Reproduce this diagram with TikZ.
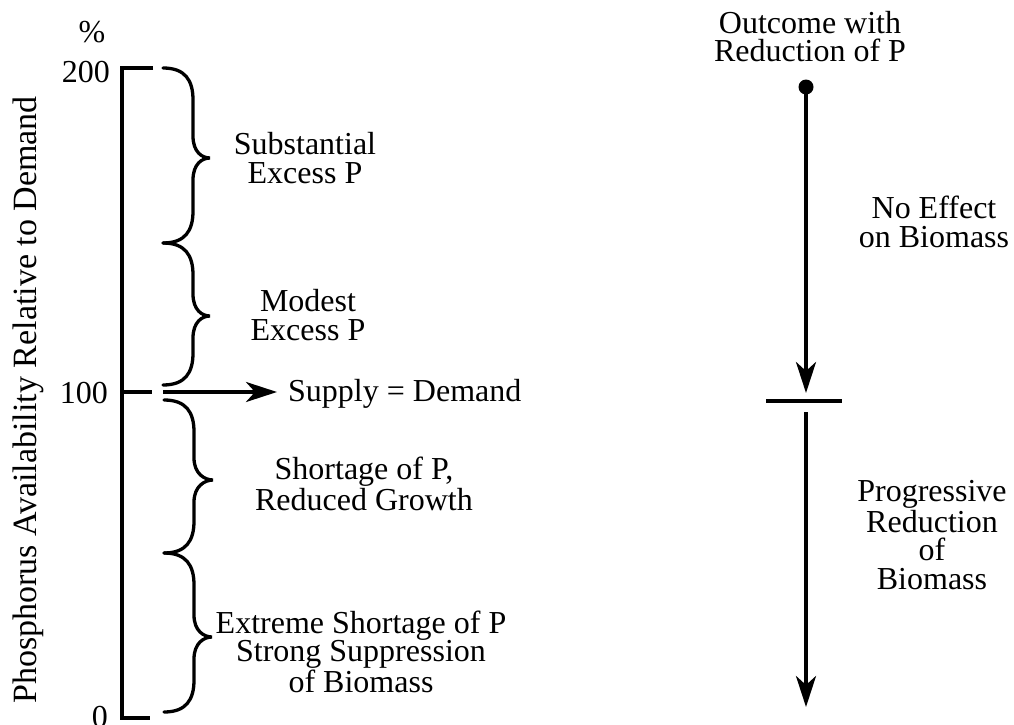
\documentclass[tikz,border=0pt]{standalone}
\usepackage{fontspec}
\setmainfont{Liberation Serif}
\usetikzlibrary{arrows.meta}
\newcommand\mybrace[5]{% x0, ya, tipx, tipy, yb
  \draw[brc] (#1,#2) .. controls (#1+22,#2) and (#1+30,#2+12) .. (#1+30,#2+32)
    -- (#1+30,#4-22) .. controls (#1+30,#4-6) and (#3-8,#4) .. (#3,#4)
    .. controls (#3-8,#4) and (#1+30,#4+6) .. (#1+30,#4+22)
    -- (#1+30,#5-32) .. controls (#1+30,#5-12) and (#1+22,#5) .. (#1,#5);}
\begin{document}
\begin{tikzpicture}[x=1pt,y=-1pt,
  lbl/.style={font=\fontsize{32}{28.5}\selectfont, align=center, inner sep=0pt},
  axis/.style={line width=3.3pt},
  brc/.style={line width=3.3pt, line cap=round},
  arr/.style={line width=3.8pt, -{Stealth[length=31pt,width=20pt,inset=9pt]}},
  dotnode/.style={circle, fill=black, minimum size=15pt, inner sep=0pt}]
\useasboundingbox (0,0) rectangle (1014,725);
% axis
\draw[axis] (153,68) -- (122,68) -- (122,718) -- (150,718);
\draw[axis] (122,392) -- (152,392);
\node[lbl, anchor=base] (pct) at (92,43) {\%};
\node[lbl, anchor=base east] (t200) at (110,82) {200};
\node[lbl, anchor=base east] (t100) at (108,403) {100};
\node[lbl, anchor=base east] (t0) at (108,727) {0};
\node[lbl, font=\fontsize{34}{34}\selectfont, rotate=90, anchor=base] (ylab) at (36,400)
  {Phosphorus Availability Relative to Demand};
% braces
\mybrace{163}{68}{210}{158}{243}
\mybrace{163}{243}{210}{316}{385}
\mybrace{164}{400}{213}{480}{553}
\mybrace{164}{553}{212}{637}{712}
% labels (anchor = baseline of the last line)
\node[lbl, anchor=base] (subst) at (305,183) {Substantial\\Excess P};
\node[lbl, anchor=base] (modest) at (308,340) {Modest\\Excess P};
\node[lbl, anchor=base west] (supply) at (288,401) {Supply = Demand};
\node[lbl, anchor=base] (short) at (364,510) {Shortage of P,\\Reduced Growth};
\node[lbl, anchor=base] (extreme) at (361,692) {Extreme Shortage of P\\Strong Suppression\\of Biomass};
\coordinate (s0) at (163,392);
\coordinate (s1) at (277,392);
\draw[arr] (s0) -- (s1);
% right side
\node[lbl, anchor=base] (outcome) at (810,62) {Outcome with\\Reduction of P};
\node[dotnode] (dot) at (806,87) {};
\coordinate (tip1) at (806,393);
\coordinate (barL) at (766,401);
\coordinate (barR) at (842,401);
\coordinate (start2) at (806,412);
\coordinate (tip2) at (806,707);
\draw[arr] (dot.center) -- (tip1);
\draw[line width=3.5pt] (barL) -- (barR);
\draw[arr] (start2) -- (tip2);
\node[lbl, anchor=base] (noeff) at (934,247) {No Effect\\on Biomass};
\node[lbl, anchor=base] (prog) at (932,589) {Progressive\\Reduction\\of\\Biomass};
\end{tikzpicture}
\end{document}
